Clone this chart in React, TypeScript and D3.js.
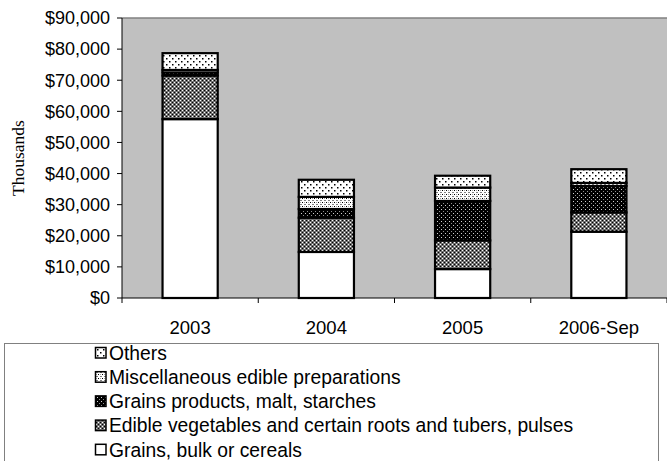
import React from "react";
import * as d3 from "d3";

const categories = ["2003", "2004", "2005", "2006-Sep"];
const seriesNames = [
  "Grains, bulk or cereals",
  "Edible vegetables and certain roots and tubers, pulses",
  "Grains products, malt, starches",
  "Miscellaneous edible preparations",
  "Others",
];
const grainsBulk = [57500, 14800, 9300, 21300];
const edibleVeg = [14000, 11000, 9200, 6200];
const grainsProducts = [1000, 2800, 12700, 8500];
const miscPreparations = [800, 3900, 4300, 1000];
const others = [5400, 5500, 3800, 4400];
const yTicks = [0, 10000, 20000, 30000, 40000, 50000, 60000, 70000, 80000, 90000];

const seriesValues = [grainsBulk, edibleVeg, grainsProducts, miscPreparations, others];
const patternIds = ["pWhite", "pEdible", "pProducts", "pMisc", "pOthers"];

const W = 667;
const H = 461;
const plotLeft = 122;
const plotRight = 667;
const plotTop = 18;
const plotBottom = 298;

export default function App() {
  const x = d3.scaleBand().domain(categories).range([plotLeft, plotRight]).paddingInner(0).paddingOuter(0);
  const y = d3.scaleLinear().domain([0, 90000]).range([plotBottom, plotTop]);
  const barW = x.bandwidth() * 0.405;

  const table = categories.map((c, i) => {
    const row: any = { cat: c };
    seriesNames.forEach((s, k) => (row[s] = seriesValues[k][i]));
    return row;
  });
  const stacked = d3.stack().keys(seriesNames)(table);
  const fmt = (v: number) => "$" + d3.format(",")(v);
  const font = "Liberation Sans, Arial, sans-serif";

  const legendTop = 343;
  const legendRowY = (i: number) => 353 + i * 24.2;

  return (
    <svg width={W} height={H} style={{ position: "fixed", left: 0, top: 0 }} xmlns="http://www.w3.org/2000/svg">
      <defs>
        <pattern id="pWhite" width={4} height={4} patternUnits="userSpaceOnUse">
          <rect width={4} height={4} fill="#ffffff" />
        </pattern>
        <pattern id="pEdible" width={4} height={4} patternUnits="userSpaceOnUse">
          <rect width={4} height={4} fill="#707070" />
          <rect x={0} y={0} width={1} height={1} fill="#ffffff" />
          <rect x={2} y={2} width={1} height={1} fill="#ffffff" />
          <rect x={2} y={0} width={1} height={1} fill="#000000" />
          <rect x={0} y={2} width={1} height={1} fill="#000000" />
        </pattern>
        <pattern id="pProducts" width={4} height={4} patternUnits="userSpaceOnUse">
          <rect width={4} height={4} fill="#000000" />
          <rect x={1} y={1} width={1} height={1} fill="#d0d0d0" />
          <rect x={3} y={3} width={1} height={1} fill="#909090" />
        </pattern>
        <pattern id="pMisc" width={4} height={4} patternUnits="userSpaceOnUse">
          <rect width={4} height={4} fill="#ffffff" />
          <rect x={0} y={0} width={2} height={1} fill="#808080" />
          <rect x={2} y={2} width={1} height={1} fill="#000000" />
          <rect x={0} y={2} width={1} height={1} fill="#a0a0a0" />
        </pattern>
        <pattern id="pOthers" width={6} height={6} patternUnits="userSpaceOnUse">
          <rect width={6} height={6} fill="#ffffff" />
          <rect x={1} y={1} width={1.5} height={1.5} fill="#000000" />
          <rect x={4} y={4} width={1.5} height={1.5} fill="#000000" />
        </pattern>
      </defs>

      <rect x={0} y={0} width={W} height={H} fill="#ffffff" />
      {/* plot area */}
      <rect x={plotLeft} y={plotTop} width={plotRight - plotLeft} height={plotBottom - plotTop} fill="#c0c0c0" />
      <line x1={plotLeft} x2={plotRight} y1={plotTop} y2={plotTop} stroke="#808080" strokeWidth={1.5} />

      {/* bars */}
      {stacked.map((layer, k) => (
        <g key={k}>
          {layer.map((d, i) => (
            <rect
              key={i}
              x={(x(categories[i]) as number) + (x.bandwidth() - barW) / 2}
              y={y(d[1])}
              width={barW}
              height={y(d[0]) - y(d[1])}
              fill={`url(#${patternIds[k]})`}
              stroke="#000000"
              strokeWidth={2.2}
            />
          ))}
        </g>
      ))}

      {/* y axis */}
      <line x1={plotLeft} x2={plotLeft} y1={plotTop} y2={plotBottom} stroke="#000" strokeWidth={1} />
      {yTicks.map((t) => (
        <g key={t}>
          <line x1={plotLeft - 5} x2={plotLeft} y1={y(t)} y2={y(t)} stroke="#000" />
          <text x={plotLeft - 12} y={y(t)} dy="0.35em" textAnchor="end" fontFamily={font} fontSize={18} fill="#000">
            {fmt(t)}
          </text>
        </g>
      ))}

      {/* x axis */}
      <line x1={plotLeft} x2={plotRight} y1={plotBottom} y2={plotBottom} stroke="#000" strokeWidth={1} />
      {categories.map((c, i) => (
        <g key={c}>
          <line
            x1={(x(c) as number) + x.bandwidth()}
            x2={(x(c) as number) + x.bandwidth()}
            y1={plotBottom}
            y2={plotBottom + 5}
            stroke="#000"
          />
          <text
            x={(x(c) as number) + x.bandwidth() / 2}
            y={328}
            dy="0.35em"
            textAnchor="middle"
            fontFamily={font}
            fontSize={18.5}
            fill="#000"
          >
            {c}
          </text>
        </g>
      ))}
      <line x1={plotLeft} x2={plotLeft} y1={plotBottom} y2={plotBottom + 5} stroke="#000" />

      {/* y title */}
      <text
        transform={`translate(18,${(plotTop + plotBottom) / 2}) rotate(-90)`}
        textAnchor="middle"
        dy="0.35em"
        fontFamily="Liberation Serif, Times New Roman, serif"
        fontSize={17.5}
        fill="#000"
      >
        Thousands
      </text>

      {/* legend */}
      <rect x={4.5} y={legendTop + 0.5} width={654} height={140} fill="#ffffff" stroke="#808080" strokeWidth={1} />
      {seriesNames
        .slice()
        .reverse()
        .map((s, i) => {
          const k = seriesNames.length - 1 - i;
          const cy = legendRowY(i);
          return (
            <g key={s}>
              <rect x={95.5} y={cy - 5.5} width={10.5} height={10.5} fill={`url(#${patternIds[k]})`} stroke="#000" strokeWidth={1.5} />
              <text x={109} y={cy} dy="0.35em" fontFamily={font} fontSize={19.3} fill="#000">
                {s}
              </text>
            </g>
          );
        })}
    </svg>
  );
}
